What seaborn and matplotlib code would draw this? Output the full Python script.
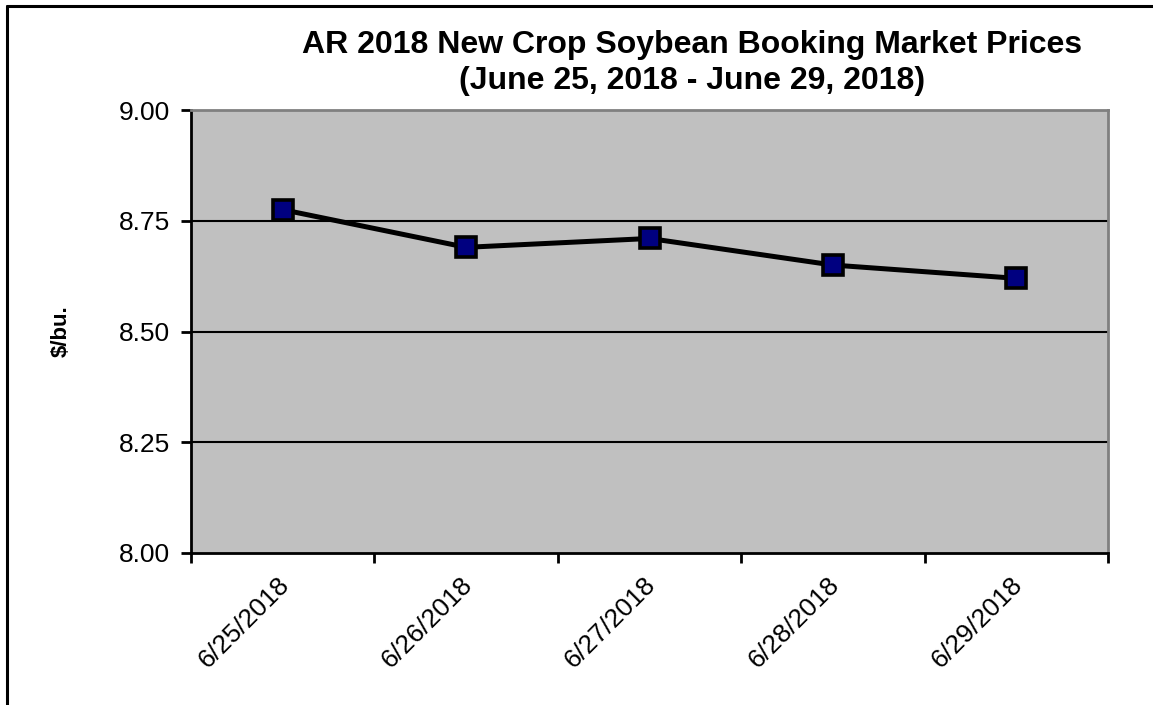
import matplotlib
matplotlib.use("Agg")
import matplotlib.pyplot as plt
import matplotlib.transforms as mtransforms
import pandas as pd
import seaborn as sns
from matplotlib.lines import Line2D

dates = ["6/25/2018", "6/26/2018", "6/27/2018", "6/28/2018", "6/29/2018"]
prices = [8.775, 8.69, 8.71, 8.65, 8.62]
y_ticks = [8.00, 8.25, 8.50, 8.75, 9.00]

title = "AR 2018 New Crop Soybean Booking Market Prices\n(June 25, 2018 - June 29, 2018)"
y_label = "$/bu."

df = pd.DataFrame({"date": dates, "price": prices})

sns.set_style("white")
plt.rcParams["font.family"] = ["Liberation Sans", "DejaVu Sans"]
plt.rcParams["text.color"] = "black"
plt.rcParams["xtick.color"] = "black"
plt.rcParams["ytick.color"] = "black"
plt.rcParams["axes.labelcolor"] = "black"

fig = plt.figure(figsize=(11.53, 7.05), dpi=100)
ax = fig.add_axes([191 / 1153, 1 - 553 / 705, (1108 - 191) / 1153, (553 - 110) / 705])
ax.set_facecolor("#c0c0c0")

sns.lineplot(data=df, x="date", y="price", ax=ax, color="black", linewidth=3.6,
             marker="s", markersize=14, markerfacecolor="#000080",
             markeredgecolor="black", markeredgewidth=2.6, zorder=3)

ax.set_xlim(-0.5, len(dates) - 0.5)
ax.set_ylim(8.0, 9.0)
ax.set_yticks(y_ticks)
ax.set_yticklabels([f"{v:.2f}" for v in y_ticks], fontsize=19)
for v in y_ticks[1:-1]:
    ax.axhline(v, color="black", linewidth=1.5, zorder=1)

ax.set_xticks(range(len(dates)))
ax.set_xticklabels(dates, rotation=45, ha="right", rotation_mode="anchor", fontsize=19)
ax.set_xticks([i - 0.5 for i in range(len(dates) + 1)], minor=True)
ax.tick_params(axis="x", which="major", bottom=True, length=0, pad=14)
ax.tick_params(axis="x", which="minor", bottom=True, length=7, width=2, color="black", direction="out")
ax.tick_params(axis="y", left=True, length=7, width=2, color="black", direction="out", pad=8)
shift = mtransforms.ScaledTranslation(-6 / 100, 0, fig.dpi_scale_trans)
for lbl in ax.get_xticklabels():
    lbl.set_transform(lbl.get_transform() + shift)

ax.set_xlabel("")
ax.set_ylabel(y_label, fontsize=16, fontweight="bold", labelpad=34)

for side in ["left", "bottom"]:
    ax.spines[side].set_color("black")
    ax.spines[side].set_linewidth(2)
for side in ["top", "right"]:
    ax.spines[side].set_color("#808080")
    ax.spines[side].set_linewidth(2)

fig.text(692 / 1153, 1 - 63 / 705, title, ha="center", va="center",
         fontsize=23, fontweight="bold", linespacing=1.25)

# outer frame of the figure box
fig.add_artist(Line2D([7 / 1153, 7 / 1153], [0, 1 - 6 / 705], color="black", linewidth=2.2))
fig.add_artist(Line2D([7 / 1153, 1], [1 - 6 / 705, 1 - 6 / 705], color="black", linewidth=2.2))

fig.savefig("out.png", dpi=100)
